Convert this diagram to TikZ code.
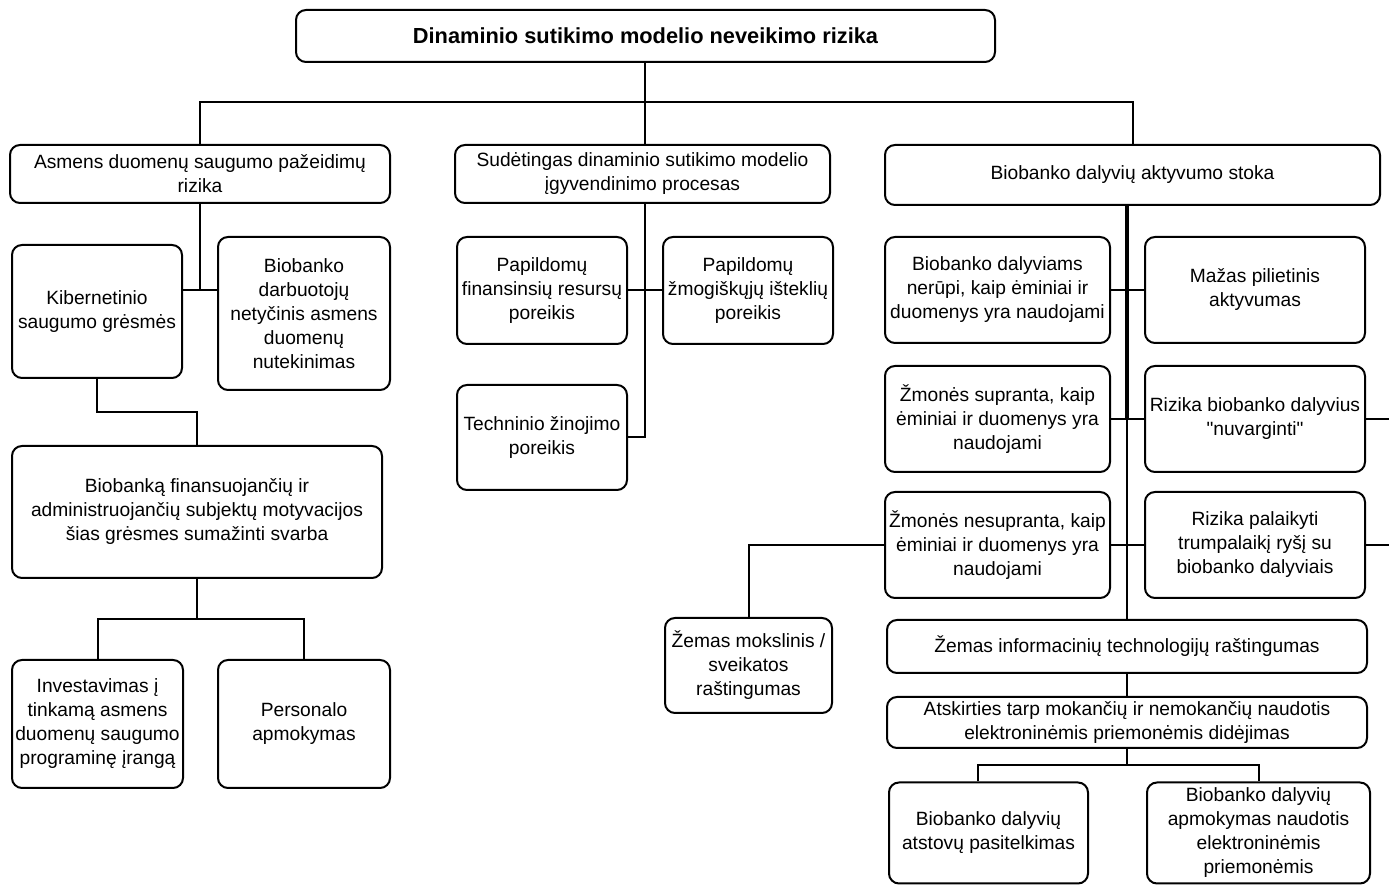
\documentclass[tikz,border=0pt]{standalone}
\usepackage{fontspec}
\setmainfont[Ligatures=TeXOff]{Liberation Sans}
\usetikzlibrary{calc}
\begin{document}
\begin{tikzpicture}[x=0.5pt,y=-0.5pt,
  box/.style={draw, line width=1pt, rounded corners=5pt, align=center,
    inner sep=0pt, fill=white, font=\fontsize{9.6}{12}\selectfont},
  wire/.style={line width=1pt},
  spine/.style={line width=2pt}]
\useasboundingbox (0,0) rectangle (1389,886);

% nodes: position = centre, size = width x height (half-points)
\node[box, minimum width=349.5pt, minimum height=26pt, font=\fontsize{10.9}{13}\selectfont\bfseries]
  (top) at (645.5,36) {Dinaminio sutikimo modelio neveikimo rizika};

\node[box, minimum width=190pt, minimum height=29pt] (A) at (200,174)
  {Asmens duomenų saugumo pažeidimų\\rizika};
\node[box, minimum width=187.5pt, minimum height=29pt] (B) at (642.5,174)
  {Sudėtingas dinaminio sutikimo modelio\\įgyvendinimo procesas};
\node[box, minimum width=247.5pt, minimum height=30pt] (C) at (1132.5,175)
  {Biobanko dalyvių aktyvumo stoka};

% left branch
\node[box, minimum width=85pt, minimum height=66.5pt] (A1) at (97,311.5)
  {Kibernetinio\\saugumo grėsmės};
\node[box, minimum width=86pt, minimum height=76.5pt] (A2) at (304,313.5)
  {Biobanko\\darbuotojų\\netyčinis asmens\\duomenų\\nutekinimas};
\node[box, minimum width=185pt, minimum height=66pt] (A3) at (197,512)
  {Biobanką finansuojančių ir\\administruojančių subjektų motyvacijos\\šias grėsmes sumažinti svarba};
\node[box, minimum width=85.5pt, minimum height=64pt] (A4) at (97.5,724)
  {Investavimas į\\tinkamą asmens\\duomenų saugumo\\programinę įrangą};
\node[box, minimum width=86pt, minimum height=64pt] (A5) at (304,724)
  {Personalo\\apmokymas};

% middle branch
\node[box, minimum width=85pt, minimum height=53.5pt] (B1) at (542,290.5)
  {Papildomų\\finansinsių resursų\\poreikis};
\node[box, minimum width=85pt, minimum height=53.5pt] (B2) at (748,290.5)
  {Papildomų\\žmogiškųjų išteklių\\poreikis};
\node[box, minimum width=85pt, minimum height=52.5pt] (B3) at (542,437.5)
  {Techninio žinojimo\\poreikis};

% right branch
\node[box, minimum width=112.5pt, minimum height=53pt] (C1) at (997.5,290)
  {Biobanko dalyviams\\nerūpi, kaip ėminiai ir\\duomenys yra naudojami};
\node[box, minimum width=110pt, minimum height=53pt] (C2) at (1255,290)
  {Mažas pilietinis\\aktyvumas};
\node[box, minimum width=112.5pt, minimum height=53pt] (C3) at (997.5,419)
  {Žmonės supranta, kaip\\ėminiai ir duomenys yra\\naudojami};
\node[box, minimum width=110pt, minimum height=53pt] (C4) at (1255,419)
  {Rizika biobanko dalyvius\\"nuvarginti"};
\node[box, minimum width=112.5pt, minimum height=53pt] (C5) at (997.5,545)
  {Žmonės nesupranta, kaip\\ėminiai ir duomenys yra\\naudojami};
\node[box, minimum width=110pt, minimum height=53pt] (C6) at (1255,545)
  {Rizika palaikyti\\trumpalaikį ryšį su\\biobanko dalyviais};
\node[box, minimum width=83.5pt, minimum height=47.5pt] (C7) at (748.5,665.5)
  {Žemas mokslinis /\\sveikatos\\raštingumas};
\node[box, minimum width=240pt, minimum height=26.5pt] (C8) at (1127,646.5)
  {Žemas informacinių technologijų raštingumas};
\node[box, minimum width=240pt, minimum height=25.5pt] (C9) at (1127,722.5)
  {Atskirties tarp mokančių ir nemokančių naudotis\\elektroninėmis priemonėmis didėjimas};
\node[box, minimum width=99.5pt, minimum height=50.5pt] (C10) at (988.5,833)
  {Biobanko dalyvių\\atstovų pasitelkimas};
\node[box, minimum width=111.5pt, minimum height=50.5pt] (C11) at (1258.5,833)
  {Biobanko dalyvių\\apmokymas naudotis\\elektroninėmis\\priemonėmis};

% junction points
\coordinate (j0) at (645,102);
\coordinate (ja) at (200,290);
\coordinate (jb) at (645,437.5);
\coordinate (jc) at (1127,419);
\coordinate (jd) at (978,765);
\coordinate (rc4) at (1389,419);
\coordinate (rc6) at (1389,545);

% top level
\draw[wire] (top.south -| j0) -- (j0);
\draw[wire] (A.north) |- (j0) -| (C.north);
\draw[wire] (j0) -- (j0 |- B.north);

% left branch
\draw[wire] (A.south) -- (ja);
\draw[wire] (A1.east |- ja) -- (A2.west |- ja);
\draw[wire] (A1.south) |- ($(A1.south)!0.5!(A1.south |- A3.north)$) -| (A3.north);
\draw[wire] (A3.south) -- ($(A3.south)!0.5!(A3.south |- A4.north)$);
\draw[wire] (A4.north) |- ($(A3.south)!0.5!(A3.south |- A4.north)$) -| (A5.north);

% middle branch
\draw[wire] (B.south -| jb) -- (jb) -- (B3.east);
\draw[wire] (B1.east) -- (B2.west);

% right branch
\draw[spine] (C.south -| jc) -- (jc);
\draw[wire] (jc) -- (jc |- C8.north);
\draw[wire] (C1.east) -- (C2.west);
\draw[wire] (C3.east) -- (C4.west);
\draw[wire] (C5.east) -- (C6.west);
\draw[wire] (C4.east) -- (rc4);
\draw[wire] (C6.east) -- (rc6);
\draw[wire] (C5.west) -| (C7.north);
\draw[wire] (C8.south) -- (C9.north);
\draw[wire] (C9.south) -- (C9.south |- jd);
\draw[wire] (jd |- C10.north) -- (jd) -| (C11.north);
\end{tikzpicture}
\end{document}
